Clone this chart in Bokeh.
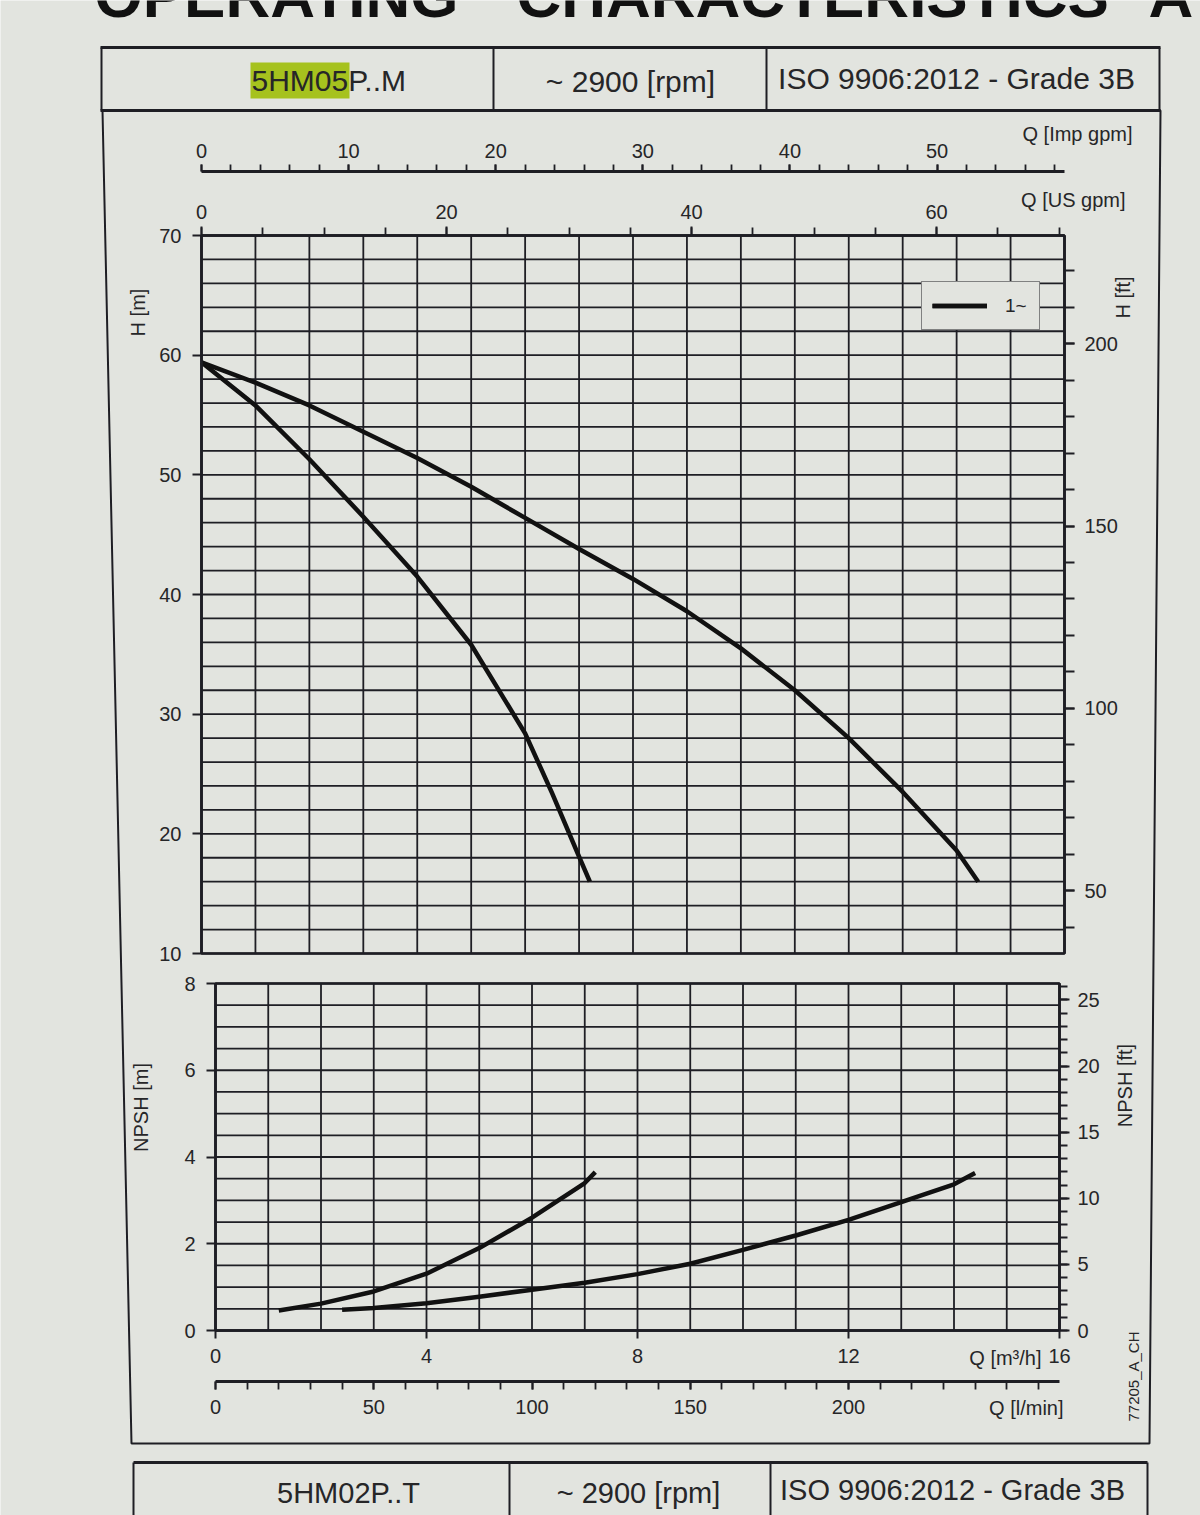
import numpy as np
from bokeh.plotting import figure
from bokeh.models import Range1d, LinearAxis, FixedTicker, Legend, LegendItem
from bokeh.core.properties import value
from bokeh.embed import file_html
from bokeh.resources import INLINE

# ---------------- data ----------------
# Head curves  (Q in m3/h, H in m)
Q_H_A = [0, 1, 2, 3, 4, 5, 6, 6.5, 7, 7.2]
H_A = [59.4, 55.8, 51.3, 46.5, 41.5, 35.8, 28.4, 23.4, 18.1, 16.0]
Q_H_B = [0, 1, 2, 3, 4, 5, 6, 7, 8, 9, 10, 11, 12, 13, 14, 14.4]
H_B = [59.4, 57.7, 55.8, 53.6, 51.4, 49.0, 46.4, 43.8, 41.3, 38.6, 35.5, 32.0, 28.0, 23.5, 18.6, 16.0]
# NPSH curves (Q in m3/h, NPSH in m)
Q_N_A = [1.2, 2, 3, 4, 5, 6, 7, 7.2]
NPSH_A = [0.46, 0.62, 0.90, 1.31, 1.90, 2.60, 3.40, 3.65]
Q_N_B = [2.4, 3, 4, 5, 6, 7, 8, 9, 10, 11, 12, 13, 14, 14.4]
NPSH_B = [0.48, 0.52, 0.63, 0.78, 0.94, 1.10, 1.30, 1.54, 1.86, 2.19, 2.55, 2.96, 3.37, 3.63]
LEGEND_LABEL = "1~"

# ticks / scales
Q_MAX = 16
H_MIN, H_MAX = 10, 70
NPSH_MAX = 8
H_TICKS = [10, 20, 30, 40, 50, 60, 70]
HFT_TICKS = [50, 100, 150, 200]
HFT_MINOR = list(range(40, 230, 10))
NPSH_TICKS = [0, 2, 4, 6, 8]
NFT_TICKS = [0, 5, 10, 15, 20, 25]
NFT_MINOR = list(range(0, 27))
Q_TICKS = [0, 4, 8, 12, 16]
LMIN_TICKS = [0, 50, 100, 150, 200]
LMIN_MINOR = list(range(0, 267, 10))
IMP_TICKS = [0, 10, 20, 30, 40, 50]
IMP_MINOR = list(range(0, 59, 2))
USG_TICKS = [0, 20, 40, 60]
USG_MINOR = list(range(0, 71, 5))

M2FT = 3.28084
Q2LMIN = 1000 / 60
Q2IMP = Q2LMIN / 4.54609
Q2USG = Q2LMIN / 3.785412

HEADER = ["5HM05", "P..M", "~ 2900 [rpm]", "ISO 9906:2012 - Grade 3B"]
FOOTER = ["5HM02P..T", "~ 2900 [rpm]", "ISO 9906:2012 - Grade 3B"]
TITLE = ["OPERATING", "CHARACTERISTICS", "A"]

# ---------------- style ----------------
BG = "#e2e4df"
INK = "#1e1e24"
TXT = "#262628"
HIL = "#a6c21e"
FONT = "Liberation Sans"

# ---------------- layout (page pixels) ----------------
W, HGT = 1200, 1515
PX0, PX1 = 0, W
PY0, PY1 = 0, HGT

TX0, TX1 = 201, 1064      # top plot Q=0 / Q=16
TY70, TY10 = 235, 953     # top plot H=70 / H=10
BX0, BX1 = 215, 1059      # npsh plot Q=0 / Q=16
BY8, BY0 = 983, 1330      # npsh plot 8 / 0
IMP_Y = 171
LMIN_Y = 1381


def rng(v0, p0, v1, p1, horizontal=True):
    b = (p1 - p0) / (v1 - v0)
    a = p0 - b * v0
    if horizontal:
        return Range1d(start=(PX0 - a) / b, end=(PX1 - a) / b)
    return Range1d(start=(PY1 - a) / b, end=(PY0 - a) / b)


p = figure(width=W, height=HGT, x_range=Range1d(PX0, PX1), y_range=Range1d(PY1, PY0),
           x_axis_type=None, y_axis_type=None, toolbar_location=None, output_backend="svg",
           min_border=0, background_fill_color=BG, border_fill_color=BG, outline_line_color=None)

p.extra_x_ranges = {
    "qt": rng(0, TX0, Q_MAX, TX1),
    "imp": rng(0, TX0, Q_MAX * Q2IMP, TX1),
    "usg": rng(0, TX0, Q_MAX * Q2USG, TX1),
    "qb": rng(0, BX0, Q_MAX, BX1),
    "lmin": rng(0, BX0, Q_MAX * Q2LMIN, BX1),
}
p.extra_y_ranges = {
    "h": rng(H_MIN, TY10, H_MAX, TY70, False),
    "hft": rng(H_MIN * M2FT, TY10, H_MAX * M2FT, TY70, False),
    "npsh": rng(0, BY0, NPSH_MAX, BY8, False),
    "nft": rng(0, BY0, NPSH_MAX * M2FT, BY8, False),
}

# ---------------- frames / tables (page coords) ----------------
# cut-off title at the very top
p.text(x=[94, 516, 1148], y=[-5, -5, -5], text=TITLE,
       text_font=value(FONT), text_font_style="bold", text_font_size=value("62px"),
       text_baseline="middle", text_align="left", text_color="#111111")

# header table
p.quad(left=[250], right=[349], top=[62], bottom=[98], fill_color=HIL, line_color=None)
p.segment(x0=[100, 100, 101, 1159, 493, 766], y0=[47, 110, 47, 47, 47, 47],
          x1=[1160, 1160, 101, 1159, 493, 766], y1=[47, 110, 110, 110, 110, 110],
          line_color=INK, line_width=[3, 3, 2, 2, 2, 2])
p.text(x=[251], y=[80], text=[HEADER[0] + HEADER[1]], text_font=value(FONT),
       text_font_size=value("30px"), text_align="left", text_baseline="middle", text_color=TXT)
p.text(x=[630, 956], y=[81, 78], text=[HEADER[2], HEADER[3]], text_font=value(FONT),
       text_font_size=value("30px"), text_align="center", text_baseline="middle", text_color=TXT)

# body frame
p.patch(x=[102, 1160, 1149, 131], y=[110, 110, 1443, 1443], fill_color=None,
        line_color=INK, line_width=2)

# footer table
p.segment(x0=[133, 133, 1147, 509, 770], y0=[1462, 1462, 1462, 1462, 1462],
          x1=[1147, 133, 1147, 509, 770], y1=[1462, 1530, 1530, 1530, 1530],
          line_color=INK, line_width=[3, 2, 2, 2, 2])
p.text(x=[348, 638, 952], y=[1492, 1492, 1489], text=FOOTER, text_font=value(FONT),
       text_font_size=value("29px"), text_align="center", text_baseline="middle", text_color=TXT)

# ---------------- grids ----------------
qv = np.arange(0, Q_MAX + 1, 1)
hv = np.arange(H_MIN, H_MAX + 1, 2)
nv = np.arange(0, NPSH_MAX + 0.01, 0.5)

p.segment(x0=qv, y0=H_MIN, x1=qv, y1=H_MAX, x_range_name="qt", y_range_name="h",
          line_color=INK, line_width=1.8)
p.segment(x0=0, y0=hv, x1=Q_MAX, y1=hv, x_range_name="qt", y_range_name="h",
          line_color=INK, line_width=1.8)
p.quad(left=0, right=Q_MAX, bottom=H_MIN, top=H_MAX, x_range_name="qt", y_range_name="h",
       fill_color=None, line_color=INK, line_width=2.5)

p.segment(x0=qv, y0=0, x1=qv, y1=NPSH_MAX, x_range_name="qb", y_range_name="npsh",
          line_color=INK, line_width=1.8)
p.segment(x0=0, y0=nv, x1=Q_MAX, y1=nv, x_range_name="qb", y_range_name="npsh",
          line_color=INK, line_width=1.8)
p.quad(left=0, right=Q_MAX, bottom=0, top=NPSH_MAX, x_range_name="qb", y_range_name="npsh",
       fill_color=None, line_color=INK, line_width=2.5)

# ---------------- curves ----------------
CURVE = dict(line_color="#111111", line_width=4.5, line_join="round")
rA = p.line(Q_H_A, H_A, x_range_name="qt", y_range_name="h", **CURVE)
rB = p.line(Q_H_B, H_B, x_range_name="qt", y_range_name="h", **CURVE)
p.line(Q_N_A, NPSH_A, x_range_name="qb", y_range_name="npsh", **CURVE)
p.line(Q_N_B, NPSH_B, x_range_name="qb", y_range_name="npsh", **CURVE)

# ---------------- axes ----------------
def add_axis(side, xr, yr, loc, bounds, ticks, minor=None, tick_out=9, minor_out=0,
             standoff=8, line_w=2.5):
    ax = LinearAxis(x_range_name=xr, y_range_name=yr, fixed_location=loc, bounds=bounds,
                    ticker=FixedTicker(ticks=ticks, minor_ticks=minor or []),
                    major_tick_in=0, major_tick_out=tick_out, minor_tick_in=0, minor_tick_out=minor_out,
                    axis_line_color=INK, axis_line_width=line_w,
                    major_tick_line_color=INK, major_tick_line_width=2,
                    minor_tick_line_color=INK, minor_tick_line_width=1.8,
                    major_label_text_font=FONT, major_label_text_font_size="20px",
                    major_label_text_color=TXT, major_label_standoff=standoff)
    p.add_layout(ax, side)
    return ax


add_axis("left", "qt", "h", 0, (H_MIN, H_MAX), H_TICKS, tick_out=9, standoff=11)
add_axis("right", "qt", "hft", Q_MAX, (H_MIN * M2FT, H_MAX * M2FT), HFT_TICKS, HFT_MINOR,
         tick_out=10, minor_out=10, standoff=10)
add_axis("above", "usg", "h", H_MAX, (0, Q_MAX * Q2USG), USG_TICKS, USG_MINOR,
         tick_out=9, minor_out=8, standoff=8)
add_axis("above", "imp", "default", IMP_Y, (0, Q_MAX * Q2IMP), IMP_TICKS, IMP_MINOR,
         tick_out=7, minor_out=7, standoff=7, line_w=3)
add_axis("left", "qb", "npsh", 0, (0, NPSH_MAX), NPSH_TICKS, tick_out=9, standoff=11)
add_axis("right", "qb", "nft", Q_MAX, (0, NPSH_MAX * M2FT), NFT_TICKS, NFT_MINOR,
         tick_out=10, minor_out=8, standoff=8)
add_axis("below", "qb", "npsh", 0, (0, Q_MAX), Q_TICKS, tick_out=8, standoff=10)
add_axis("below", "lmin", "default", LMIN_Y, (0, Q_MAX * Q2LMIN), LMIN_TICKS, LMIN_MINOR,
         tick_out=8, minor_out=8, standoff=10, line_w=3)

# ---------------- axis titles ----------------
p.text(x=[137, 1122, 140, 1124], y=[312, 297, 1107, 1085],
       text=["H [m]", "H [ft]", "NPSH [m]", "NPSH [ft]"], angle=np.pi / 2,
       text_font=value(FONT), text_font_size=value("20px"), text_align="center",
       text_baseline="middle", text_color=TXT)
p.text(x=[1132, 1125, 1041, 1063], y=[133, 199, 1357, 1407],
       text=["Q [Imp gpm]", "Q [US gpm]", "Q [m³/h]", "Q [l/min]"],
       text_font=value(FONT), text_font_size=value("20px"), text_align="right",
       text_baseline="middle", text_color=TXT)
p.text(x=[1133], y=[1376], text=["77205_A_CH"], angle=np.pi / 2,
       text_font=value(FONT), text_font_size=value("15px"), text_align="center",
       text_baseline="middle", text_color=TXT)

# ---------------- legend ----------------
leg = Legend(items=[LegendItem(label=LEGEND_LABEL, renderers=[rA, rB])],
             location=(921 - PX0, PY1 - 330), orientation="vertical",
             glyph_width=55, glyph_height=27, label_height=27, label_width=24,
             label_standoff=18, padding=10, spacing=0, margin=0,
             border_line_color=INK, border_line_width=1.5,
             background_fill_color=BG, background_fill_alpha=1.0,
             label_text_font=FONT, label_text_font_size="19px", label_text_color=TXT)
p.add_layout(leg)

open("out.html", "w").write(file_html(p, INLINE))
